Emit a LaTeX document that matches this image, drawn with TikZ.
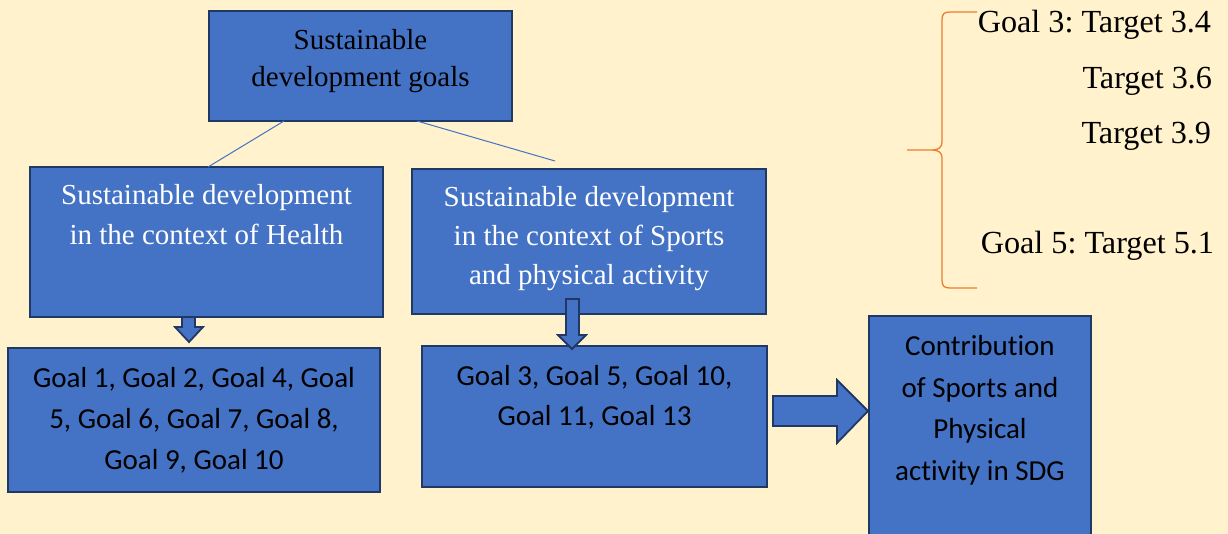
\documentclass[tikz,border=0pt]{standalone}
\usepackage{fontspec}
\setmainfont{Liberation Serif}
\newfontfamily\calfont{Carlito}[Ligatures=NoCommon]
\usetikzlibrary{calc}
\frenchspacing
\definecolor{bg}{HTML}{FFF2CC}
\definecolor{boxblue}{HTML}{4472C4}
\definecolor{boxline}{HTML}{203864}
\definecolor{braceor}{HTML}{ED7D31}
\begin{document}
\frenchspacing
\begin{tikzpicture}[x=1pt,y=-1pt,
  box/.style={draw=boxline, fill=boxblue, line width=2pt, inner sep=0pt, outer sep=0pt},
  txt/.style={inner sep=0pt, outer sep=0pt, align=center, anchor=base},
  serifbk/.style={txt, text=black},
  serifwh/.style={txt, text=white},
  calbk/.style={txt, text=black},
  link/.style={draw=boxblue, line width=1pt},
  fatarrow/.style={draw=boxline, fill=boxblue, line width=1.8pt, line join=miter},
  bracel/.style={draw=braceor, line width=1.3pt},
  side/.style={inner sep=0pt, outer sep=0pt, anchor=base east, font=\fontsize{32.2}{40}\selectfont}
]
\clip (0,0) rectangle (1228,534);
\fill[bg] (0,0) rectangle (1228,534);

% boxes
\node[box, minimum width=303pt, minimum height=110pt] (sdg) at (360.5,66) {};
\node[box, minimum width=353pt, minimum height=150pt] (health) at (206.5,242) {};
\node[box, minimum width=354pt, minimum height=145pt] (sports) at (589,241.5) {};
\node[box, minimum width=372pt, minimum height=144pt] (g1) at (194,420) {};
\node[box, minimum width=345pt, minimum height=141pt] (g3) at (594.5,416.5) {};
\node[box, minimum width=222pt, minimum height=244pt] (contrib) at (980,438) {};

% texts (anchor = baseline of last line)
\node[serifbk, font=\fontsize{29}{37}\selectfont] (tsdg) at (360.5,87) {Sustainable\\development goals};
\node[serifwh, font=\fontsize{29}{40}\selectfont] (thealth) at (206.5,245) {Sustainable development\\in the context of Health};
\node[serifwh, font=\fontsize{29}{39}\selectfont] (tsports) at (589,285) {Sustainable development\\in the context of Sports\\and physical activity};
\node[calbk, font=\calfont\fontsize{29}{41}\selectfont] (tg1) at (194,469) {Goal 1, Goal 2, Goal 4, Goal\\5, Goal 6, Goal 7, Goal 8,\\Goal 9, Goal 10};
\node[calbk, font=\calfont\fontsize{29}{40}\selectfont] (tg3) at (594.5,425) {Goal 3, Goal 5, Goal 10,\\Goal 11, Goal 13};
\node[calbk, font=\calfont\fontsize{29}{41.5}\selectfont] (tcontrib) at (980,480) {Contribution\\of Sports and\\Physical\\activity in SDG};

% links from the top box
\path (sdg.south west) ++(75,0) coordinate (l1a);
\path (health.north west) ++(178,0) coordinate (l1b);
\path (sdg.south west) ++(208,0) coordinate (l2a);
\coordinate (l2b) at (555,161);
\draw[link] (l1a) -- (l1b);
\draw[link] (l2a) -- (l2b);

% block arrows
\draw[fatarrow] (182,317) -- (195,317) -- (195,327) -- (203,327) -- (189,342) -- (175,327) -- (182,327) -- cycle;
\draw[fatarrow] (566,299) -- (579,299) -- (579,335) -- (586,335) -- (572,349) -- (558,335) -- (566,335) -- cycle;
\draw[fatarrow] (773,396) -- (837,396) -- (837,380) -- (868,411) -- (837,443) -- (837,426) -- (773,426) -- cycle;

% brace
\draw[bracel] (977,12) -- (950,12) .. controls (944,12) and (942,14) .. (942,20) -- (942,142)
  .. controls (942,147) and (939,150) .. (932,150) -- (907,150)
  -- (932,150) .. controls (939,150) and (942,153) .. (942,158) -- (942,280)
  .. controls (942,286) and (944,288) .. (950,288) -- (977,288);

% side texts
\node[side] (t34) at (1211,33) {Goal 3: Target 3.4};
\node[side] (t36) at (1212,89) {Target 3.6};
\node[side] (t39) at (1211,144) {Target 3.9};
\node[side] (t51) at (1214,254) {Goal 5: Target 5.1};
\end{tikzpicture}
\end{document}
